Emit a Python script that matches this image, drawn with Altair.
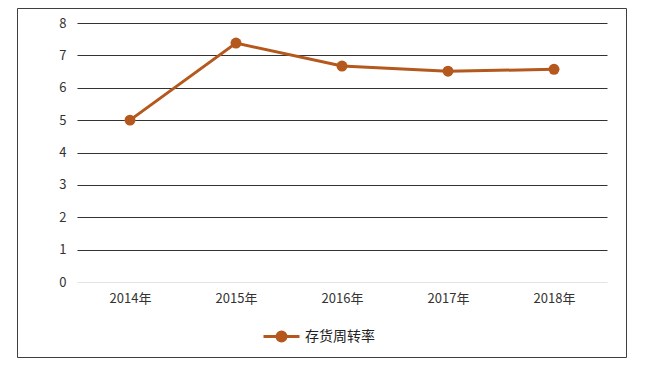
import altair as alt
import pandas as pd

years = ["2014年", "2015年", "2016年", "2017年", "2018年"]
values = [5.0, 7.38, 6.67, 6.51, 6.57]
series = ["存货周转率"] * len(years)
y_ticks = [0, 1, 2, 3, 4, 5, 6, 7, 8]

LINE = "#B4581E"
FONT = "Noto Sans CJK SC"

df = pd.DataFrame({"year": years, "value": values, "series": series})

color = alt.Color(
    "series:N",
    scale=alt.Scale(domain=["存货周转率"], range=[LINE]),
    legend=alt.Legend(
        title=None,
        orient="none",
        legendX=185,
        legendY=294,
        padding=0,
        symbolType="M-1,0L1,0M-0.25,0A0.25,0.25,0,1,1,0.25,0A0.25,0.25,0,1,1,-0.25,0Z",
        symbolSize=1296,
        symbolStrokeWidth=3,
        symbolFillColor=LINE,
        symbolStrokeColor=LINE,
        labelFont=FONT,
        labelFontSize=14,
        labelColor="#222222",
        labelOffset=4,
    ),
)

x = alt.X(
    "year:N",
    sort=years,
    scale=alt.Scale(paddingInner=0, paddingOuter=0),
    axis=alt.Axis(
        title=None,
        labelAngle=0,
        ticks=False,
        domain=False,
        grid=False,
        labelPadding=10,
        labelFont=FONT,
        labelFontSize=13,
        labelColor="#333333",
    ),
)
y = alt.Y(
    "value:Q",
    scale=alt.Scale(domain=[0, 8], nice=False),
    axis=alt.Axis(
        title=None,
        values=y_ticks,
        ticks=False,
        domain=False,
        labelPadding=11,
        labelFont=FONT,
        labelFontSize=13,
        labelColor="#333333",
        gridColor={"condition": {"test": "datum.value === 0", "value": "#e4e4e4"}, "value": "#333333"},
        gridWidth=1.2,
    ),
)

base = alt.Chart(df)
line = base.mark_line(strokeWidth=3, color=LINE).encode(x=x, y=y, color=color)
pts = base.mark_circle(size=120, opacity=1, color=LINE).encode(x=x, y=y, color=color)

frame = alt.Chart(pd.DataFrame({"a": [0]})).mark_rect(
    fill=None, stroke="#3f3f3f", strokeWidth=1
).encode(
    x=alt.value(-59.5), x2=alt.value(549.5), y=alt.value(-14.5), y2=alt.value(334.5)
)

chart = alt.layer(frame, line, pts).properties(
    width=530,
    height=259,
    autosize="none",
    background="white",
    padding={"left": 69, "top": 15, "right": 30, "bottom": 76},
).configure_view(stroke=None)

chart.save("out.html", embed_options={"renderer": "svg", "actions": False})
